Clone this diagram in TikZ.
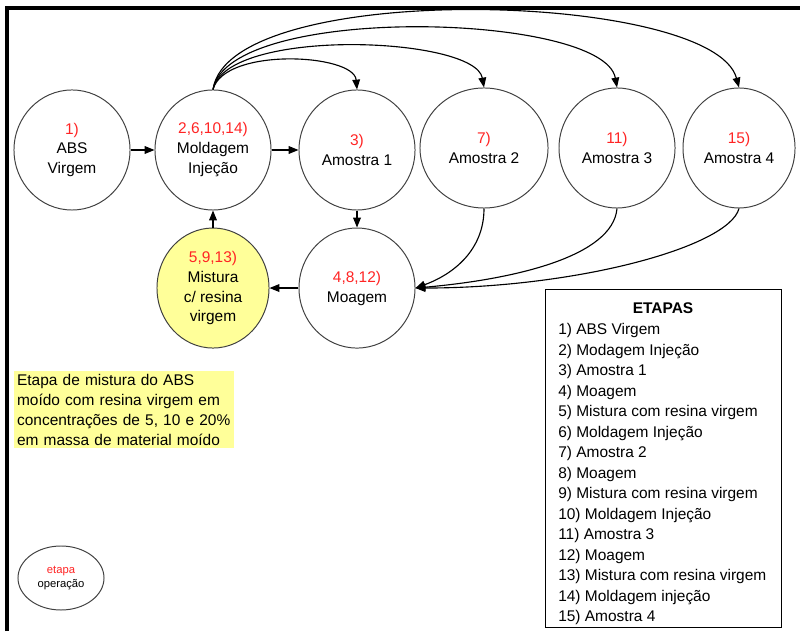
\documentclass[tikz,border=0pt]{standalone}
\usepackage{fontspec}
\setmainfont{Liberation Sans}
\usepackage{tikz}
\usetikzlibrary{positioning}
\usetikzlibrary{shapes.geometric}
\usetikzlibrary{arrows.meta}
\definecolor{amarelo}{HTML}{FFFF99}
\definecolor{vermelho}{HTML}{FF2424}
\definecolor{contorno}{HTML}{404040}
\newcommand{\etp}[1]{{\color{vermelho}#1}}
\tikzset{
    fluxograma/.style={
            x=0.025cm,y=0.025cm,
            node distance=3.45cm,
            font=\fontsize{11}{14.2}\selectfont,
            etapa/.style={ellipse,draw=contorno,line width=0.7pt,minimum width=2.9cm,minimum height=3cm,align=center,inner sep=0pt},
            arrow/.style={-{Triangle[length=7pt,width=5.5pt]},line width=0.8pt}
        }
    }

\begin{document}
\begin{tikzpicture}[fluxograma]
    \useasboundingbox (0,0) rectangle (800,631);
    \draw [line width=2.2pt] (7,0) -- (7,623) -- (800,623);

    \node [etapa] (abs) at (72,481) {\etp{1)}\\ABS\\Virgem};
    \node [etapa] (mold) at (213,481) {\etp{2,6,10,14)}\\Moldagem\\Injeção};
    \node [etapa] (am1) at (357,481) {\etp{3)}\\Amostra 1};
    \node [etapa, minimum width=3.2cm] (am2) at (484,483) {\etp{7)}\\Amostra 2};
    \node [etapa] (am3) at (617,483) {\etp{11)}\\Amostra 3};
    \node [etapa, minimum width=2.8cm] (am4) at (739,483) {\etp{15)}\\Amostra 4};
    \node [etapa, below of=am1] (moag) {\etp{4,8,12)}\\Moagem};
    \node [etapa, below of=mold, fill=amarelo, minimum width=2.8cm] (mist) {\etp{5,9,13)}\\Mistura\\c/ resina\\virgem};

    \draw [arrow] (abs) -- (mold);
    \draw [arrow] (mold) -- (am1);
    \draw [arrow] (am1) -- (moag);
    \draw [arrow] (moag) -- (mist);
    \draw [arrow] (mist) -- (mold);

    \draw [arrow] (mold.north) to [out=75,in=95,out distance=1.1cm,in distance=0.9cm] (am1.north);
    \draw [arrow] (mold.north) to [out=78,in=100,out distance=1.6cm,in distance=1.3cm] (am2.north);
    \draw [arrow] (mold.north) to [out=80,in=100,out distance=2.2cm,in distance=1.9cm] (am3.north);
    \draw [arrow] (mold.north) to [out=82,in=105,out distance=2.8cm,in distance=2.5cm] (am4.north);

    \draw [arrow] (am2.south) to [out=-90,in=20] (moag.east);
    \draw [arrow] (am3.south) to [out=-95,in=5,out distance=1.2cm,in distance=2.5cm] (moag.east);
    \draw [arrow] (am4.south) to [out=-105,in=0,out distance=1cm,in distance=4cm] (moag.east);

    \node [anchor=north west, fill=amarelo, text width=5.35cm, align=left, inner sep=2pt] (nota) at (14,260) {Etapa de mistura do ABS\\moído com resina virgem em\\concentrações de 5, 10 e 20\%\\em massa de material moído};

    \node [etapa, minimum width=2.15cm, minimum height=1.6cm, font=\fontsize{8}{10}\selectfont] (leg) at (61,53) {\etp{etapa}\\operação};

    \node [draw, line width=0.7pt, minimum width=5.9cm, minimum height=8.45cm, anchor=north west] (etapas) at (545,342) {};
    \node [font=\fontsize{11}{14}\selectfont\bfseries] (titulo) at (663,323) {ETAPAS};
    \node [anchor=north west, align=left, inner sep=0pt, font=\fontsize{11}{14.6}\selectfont] (lista) at (558,308) {1) ABS Virgem\\2) Modagem Injeção\\3) Amostra 1\\4) Moagem\\5) Mistura com resina virgem\\6) Moldagem Injeção\\7) Amostra 2\\8) Moagem\\9) Mistura com resina virgem\\10) Moldagem Injeção\\11) Amostra 3\\12) Moagem\\13) Mistura com resina virgem\\14) Moldagem injeção\\15) Amostra 4};
\end{tikzpicture}
\end{document}
